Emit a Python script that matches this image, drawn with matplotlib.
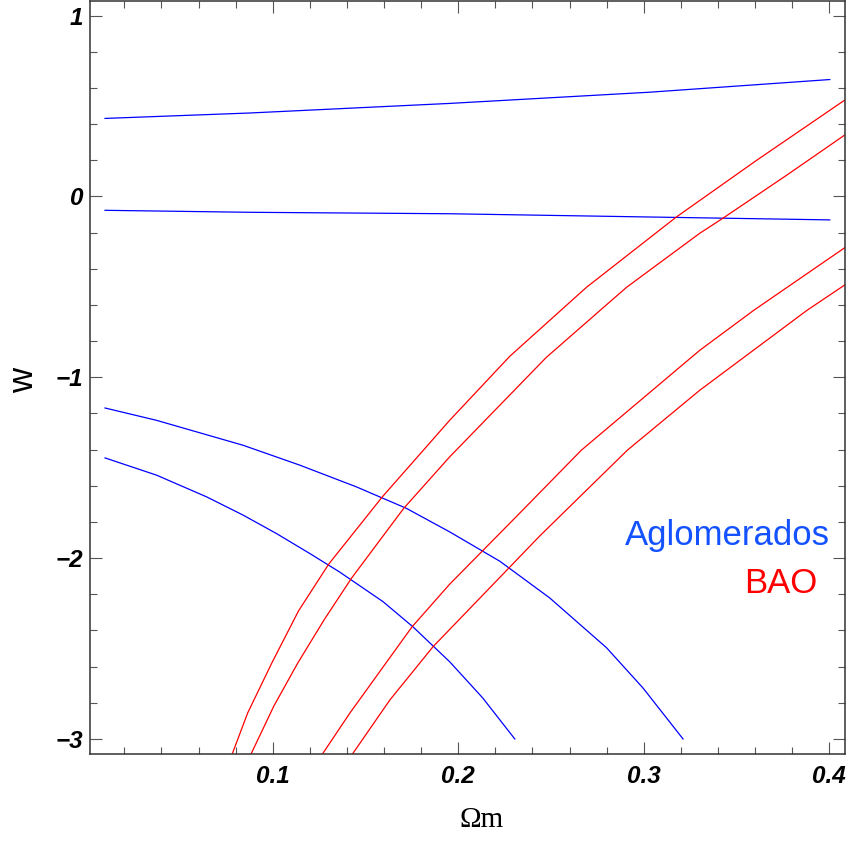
import matplotlib
matplotlib.use("Agg")
import matplotlib.pyplot as plt
from matplotlib.ticker import MultipleLocator, FuncFormatter

# Aglomerados (cluster) contours
clu1_om = [0.0096, 0.0876, 0.1954, 0.3032, 0.4003]
clu1_w = [0.431, 0.461, 0.514, 0.576, 0.646]

clu2_om = [0.0096, 0.0876, 0.1954, 0.3032, 0.4003]
clu2_w = [-0.077, -0.088, -0.096, -0.114, -0.130]

clu3_om = [0.0096, 0.0373, 0.0840, 0.1146, 0.1451, 0.1721, 0.1954, 0.2224,
           0.2493, 0.2799, 0.2996, 0.3212]
clu3_w = [-1.170, -1.238, -1.376, -1.486, -1.606, -1.725, -1.855, -2.017,
          -2.220, -2.495, -2.718, -3.000]

clu4_om = [0.0096, 0.0373, 0.0643, 0.0840, 0.1020, 0.1199, 0.1361, 0.1595,
           0.1756, 0.1954, 0.2132, 0.2305]
clu4_w = [-1.446, -1.541, -1.661, -1.762, -1.864, -1.974, -2.077, -2.241,
          -2.380, -2.573, -2.773, -3.000]

# BAO contours
bao1_om = [0.0768, 0.0865, 0.0995, 0.1139, 0.1302, 0.1591, 0.1954, 0.2278,
           0.2691, 0.3176, 0.3608, 0.4089]
bao1_w = [-3.12, -2.856, -2.580, -2.292, -2.033, -1.661, -1.238, -0.884,
          -0.503, -0.114, 0.199, 0.536]

bao2_om = [0.0866, 0.1006, 0.1135, 0.1276, 0.1424, 0.1706, 0.1954, 0.2224,
           0.2475, 0.2907, 0.3302, 0.3428, 0.3769, 0.4089]
bao2_w = [-3.12, -2.818, -2.580, -2.343, -2.112, -1.725, -1.440, -1.155,
          -0.890, -0.503, -0.204, -0.120, 0.116, 0.343]

bao3_om = [0.1244, 0.1415, 0.1751, 0.1954, 0.2305, 0.2664, 0.3302, 0.3593, 0.4089]
bao3_w = [-3.12, -2.858, -2.380, -2.144, -1.779, -1.403, -0.851, -0.630, -0.280]

bao4_om = [0.1405, 0.1631, 0.1864, 0.2439, 0.2912, 0.3302, 0.3880, 0.4089]
bao4_w = [-3.12, -2.785, -2.490, -1.878, -1.403, -1.072, -0.630, -0.486]

BLUE = "#0000ff"
RED = "#ff0000"

plt.rcParams["font.family"] = ["Liberation Sans", "DejaVu Sans"]
plt.rcParams["font.weight"] = "bold"
plt.rcParams["font.style"] = "italic"

fig = plt.figure(figsize=(8.49, 8.42), dpi=100)
ax = fig.add_axes([90 / 849, 1 - 754 / 842, 755 / 849, 753.5 / 842])

for xs, ys in [(clu1_om, clu1_w), (clu2_om, clu2_w), (clu3_om, clu3_w), (clu4_om, clu4_w)]:
    ax.plot(xs, ys, color=BLUE, lw=0.9)
for xs, ys in [(bao1_om, bao1_w), (bao2_om, bao2_w), (bao3_om, bao3_w), (bao4_om, bao4_w)]:
    ax.plot(xs, ys, color=RED, lw=0.9)

ax.set_xlim(0.0015, 0.4085)
ax.set_ylim(-3.083, 1.083)

ax.xaxis.set_major_locator(MultipleLocator(0.1))
ax.xaxis.set_minor_locator(MultipleLocator(0.02))
ax.yaxis.set_major_locator(MultipleLocator(1))
ax.yaxis.set_minor_locator(MultipleLocator(0.2))
ax.xaxis.set_major_formatter(FuncFormatter(lambda v, p: f"{v:.1f}"))
ax.yaxis.set_major_formatter(FuncFormatter(lambda v, p: f"{int(round(v))}".replace("-", "\u2212")))

ax.tick_params(which="both", direction="in", top=True, right=True,
               color="#555555", width=0.8, labelsize=17.5)
ax.tick_params(which="major", length=8.4)
ax.tick_params(which="minor", length=5)
ax.tick_params(axis="x", which="major", pad=8)
ax.tick_params(axis="y", which="major", pad=5)

for sp in ax.spines.values():
    sp.set_color("#333333")
    sp.set_linewidth(1.1)

# axis titles and key, upright
fig.text(482 / 849, 1 - 820 / 842, "\u03a9m", fontsize=21, family="Liberation Serif",
         weight="normal", style="normal", ha="center", va="center")
fig.text(23.5 / 849, 1 - 380 / 842, "w", fontsize=25, weight="normal", style="normal",
         rotation=90, ha="center", va="center")

ax.text(0.980, 0.2772, "Aglomerados", transform=ax.transAxes, ha="right",
        va="baseline", color="#1452ff", fontsize=25, weight="normal", style="normal")
ax.text(0.964, 0.214, "BAO", transform=ax.transAxes, ha="right",
        va="baseline", color=RED, fontsize=25, weight="normal", style="normal")

fig.savefig("out.png", dpi=100)
